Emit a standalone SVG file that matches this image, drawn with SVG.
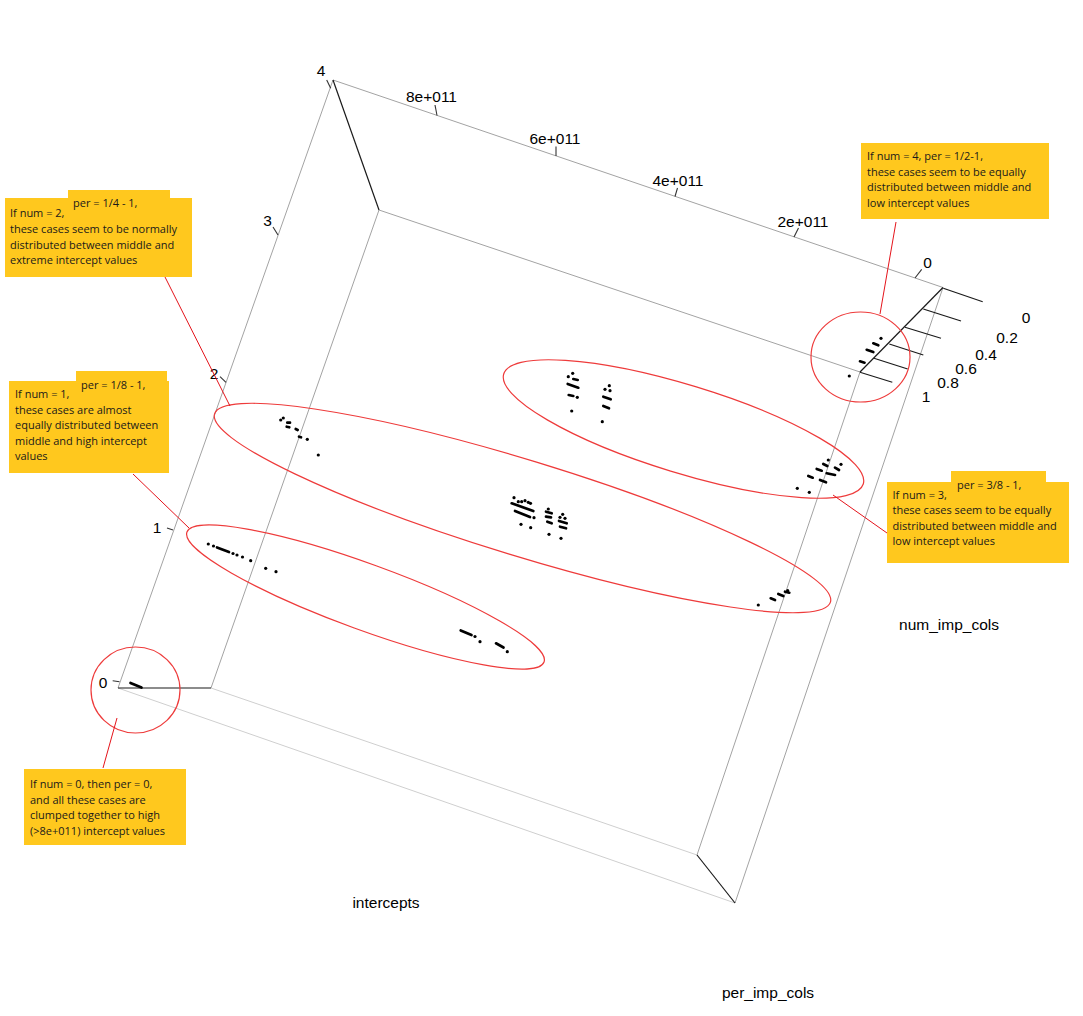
<svg xmlns="http://www.w3.org/2000/svg" width="1083" height="1016" viewBox="0 0 1083 1016">
<style>
.ax{stroke:#a3a3a3;stroke-width:1;fill:none}
.axl{stroke:#cfcfcf;stroke-width:1;fill:none}
.axk{stroke:#1a1a1a;stroke-width:1.2;fill:none}
.tk{stroke:#333;stroke-width:1.1}
.lbl{font-family:"Liberation Sans",Arial,sans-serif;font-size:15.5px;fill:#000;text-anchor:middle}
.ell{fill:none;stroke:#ee3b3b;stroke-width:1.2}
.lead{stroke:#e4141b;stroke-width:1;fill:none}
.box{fill:#FFC81E}
.ct{font-family:"Open Sans","Noto Sans","Liberation Sans",sans-serif;font-size:11px;fill:#1a1a1a}
.d{fill:#000}
.ds{stroke:#000;stroke-width:2.7;stroke-linecap:round}
</style>
<rect x="0" y="0" width="1083" height="1016" fill="#fff"/>
<g id="box-axes">
<line class="axl" x1="211" y1="688" x2="697" y2="855"/>
<line class="axl" x1="118" y1="688" x2="735" y2="903"/>
<line class="ax" x1="333" y1="80" x2="943" y2="287.5"/>
<line class="ax" x1="333" y1="80" x2="118" y2="688"/>
<line class="ax" x1="379" y1="210" x2="860" y2="372"/>
<line class="ax" x1="379" y1="210" x2="211" y2="688"/>
<line class="ax" x1="860" y1="372" x2="697" y2="855"/>
<line class="ax" x1="943" y1="287.5" x2="735" y2="903"/>
<line class="axk" x1="333" y1="80" x2="379" y2="210"/>
<line class="axk" x1="943" y1="287.5" x2="860" y2="372"/>
<line class="axk" x1="118" y1="688" x2="211" y2="688"/>
<line class="axk" x1="697" y1="855" x2="735" y2="903"/>
</g>
<g id="ticks">
<line class="tk" x1="437" y1="115.5" x2="435" y2="105"/>
<line class="tk" x1="556" y1="156" x2="556" y2="146.5"/>
<line class="tk" x1="675" y1="196.5" x2="677.5" y2="188"/>
<line class="tk" x1="794" y1="237" x2="798.5" y2="228"/>
<line class="tk" x1="915" y1="278" x2="921.7" y2="269.3"/>
<line class="tk" x1="330.7" y1="88.3" x2="326.7" y2="80"/>
<line class="tk" x1="278" y1="235" x2="273" y2="227"/>
<line class="tk" x1="226" y1="382.3" x2="220" y2="376.7"/>
<line class="tk" x1="173" y1="530" x2="167" y2="528"/>
<line class="tk" x1="119.5" y1="681.7" x2="112.7" y2="680.7"/>
<line class="axk" x1="943.3" y1="288.3" x2="982.7" y2="301.7"/>
<line class="axk" x1="923.3" y1="309" x2="961" y2="321"/>
<line class="axk" x1="905" y1="327.3" x2="941" y2="338.3"/>
<line class="axk" x1="889.3" y1="344" x2="923.3" y2="355"/>
<line class="axk" x1="874" y1="358.3" x2="907.7" y2="369"/>
<line class="axk" x1="860" y1="372.3" x2="892.3" y2="382.3"/>
</g>
<g id="axis-labels">
<text class="lbl" x="431.5" y="102">8e+011</text>
<text class="lbl" x="555" y="144">6e+011</text>
<text class="lbl" x="678" y="186">4e+011</text>
<text class="lbl" x="803" y="227">2e+011</text>
<text class="lbl" x="927.5" y="268">0</text>
<text class="lbl" x="321" y="76">4</text>
<text class="lbl" x="267.5" y="226">3</text>
<text class="lbl" x="214" y="379">2</text>
<text class="lbl" x="157" y="533">1</text>
<text class="lbl" x="103" y="688">0</text>
<text class="lbl" x="1026" y="323">0</text>
<text class="lbl" x="1007" y="343">0.2</text>
<text class="lbl" x="986" y="360">0.4</text>
<text class="lbl" x="966" y="374">0.6</text>
<text class="lbl" x="948" y="388">0.8</text>
<text class="lbl" x="926" y="402">1</text>
<text class="lbl" x="386" y="908">intercepts</text>
<text class="lbl" x="949" y="630">num_imp_cols</text>
<text class="lbl" x="768" y="998">per_imp_cols</text>
</g>
<g id="points">
<circle class="d" cx="849.3" cy="376" r="1.6"/>
<line class="ds" x1="860" y1="361.3" x2="864.5" y2="362.7"/>
<line class="ds" x1="866.7" y1="349.8" x2="873.3" y2="352"/>
<line class="ds" x1="873.3" y1="343.3" x2="878.3" y2="345.3"/>
<circle class="d" cx="881" cy="338.3" r="1.6"/>
<line class="ds" x1="130.5" y1="683" x2="141.5" y2="687.5"/>
<circle class="d" cx="208.3" cy="544" r="1.6"/>
<circle class="d" cx="213.5" cy="546" r="1.6"/>
<line class="ds" x1="217" y1="547.5" x2="229" y2="552"/>
<circle class="d" cx="233" cy="553.5" r="1.6"/>
<circle class="d" cx="237" cy="555" r="1.6"/>
<circle class="d" cx="242.5" cy="557" r="1.6"/>
<circle class="d" cx="250.7" cy="560.7" r="1.6"/>
<circle class="d" cx="265.7" cy="568.3" r="1.6"/>
<circle class="d" cx="276" cy="571.7" r="1.6"/>
<line class="ds" x1="460.7" y1="630.5" x2="471.5" y2="635"/>
<circle class="d" cx="475" cy="636.5" r="1.6"/>
<circle class="d" cx="480" cy="641.7" r="1.6"/>
<line class="ds" x1="496" y1="643.3" x2="503.5" y2="647.5"/>
<circle class="d" cx="507.3" cy="651.7" r="1.6"/>
<circle class="d" cx="572.7" cy="373.3" r="1.6"/>
<circle class="d" cx="568.3" cy="376.7" r="1.6"/>
<line class="ds" x1="573.3" y1="379" x2="577.7" y2="380"/>
<line class="ds" x1="567.7" y1="384" x2="578.3" y2="387.7"/>
<line class="ds" x1="568.7" y1="395" x2="573.3" y2="396"/>
<circle class="d" cx="577.3" cy="397.3" r="1.6"/>
<circle class="d" cx="571.7" cy="411" r="1.6"/>
<circle class="d" cx="609.3" cy="385.7" r="1.6"/>
<circle class="d" cx="605" cy="389.3" r="1.6"/>
<circle class="d" cx="610" cy="390.7" r="1.6"/>
<line class="ds" x1="603.3" y1="396.7" x2="610.7" y2="399.3"/>
<line class="ds" x1="603.3" y1="406" x2="609" y2="408.3"/>
<circle class="d" cx="602.3" cy="421.7" r="1.6"/>
<circle class="d" cx="514" cy="497.7" r="1.6"/>
<circle class="d" cx="518.3" cy="501.7" r="1.6"/>
<circle class="d" cx="521.7" cy="501.7" r="1.6"/>
<circle class="d" cx="525" cy="500.7" r="1.6"/>
<circle class="d" cx="528.3" cy="502.3" r="1.6"/>
<circle class="d" cx="530.5" cy="503.3" r="1.6"/>
<line class="ds" x1="511.7" y1="503.3" x2="533.3" y2="511"/>
<line class="ds" x1="515" y1="511" x2="530" y2="517"/>
<circle class="d" cx="534" cy="517.7" r="1.6"/>
<circle class="d" cx="521" cy="524.3" r="1.6"/>
<circle class="d" cx="530.7" cy="527.7" r="1.6"/>
<circle class="d" cx="548.3" cy="509" r="1.6"/>
<line class="ds" x1="546" y1="511.7" x2="551.7" y2="513.3"/>
<line class="ds" x1="546" y1="516.7" x2="551" y2="517.3"/>
<line class="ds" x1="547.3" y1="521.7" x2="551.7" y2="523.3"/>
<circle class="d" cx="549" cy="534.3" r="1.6"/>
<circle class="d" cx="562.7" cy="514.3" r="1.6"/>
<circle class="d" cx="560" cy="517.3" r="1.6"/>
<circle class="d" cx="565" cy="518.3" r="1.6"/>
<line class="ds" x1="559" y1="521" x2="566.7" y2="523.3"/>
<line class="ds" x1="560" y1="526.7" x2="566" y2="528.3"/>
<circle class="d" cx="561" cy="538.3" r="1.6"/>
<circle class="d" cx="280.7" cy="420" r="1.6"/>
<circle class="d" cx="283.3" cy="418" r="1.6"/>
<line class="ds" x1="287.3" y1="422.7" x2="290" y2="422.7"/>
<line class="ds" x1="286.7" y1="426.7" x2="289.3" y2="427.3"/>
<line class="ds" x1="295.7" y1="429" x2="297.7" y2="430"/>
<line class="ds" x1="299" y1="436.7" x2="301" y2="437.3"/>
<circle class="d" cx="307.3" cy="439.3" r="1.6"/>
<circle class="d" cx="318.3" cy="455" r="1.6"/>
<circle class="d" cx="758.3" cy="605" r="1.6"/>
<line class="ds" x1="770.7" y1="598.3" x2="775" y2="600"/>
<line class="ds" x1="778.3" y1="594" x2="783.3" y2="596"/>
<line class="ds" x1="785" y1="591.7" x2="789.3" y2="592.7"/>
<circle class="d" cx="787.7" cy="590.7" r="1.6"/>
<circle class="d" cx="797.3" cy="488.3" r="1.6"/>
<circle class="d" cx="809.3" cy="492.3" r="1.6"/>
<line class="ds" x1="808.3" y1="476" x2="812.7" y2="477.7"/>
<line class="ds" x1="816.7" y1="469" x2="821.7" y2="470.7"/>
<line class="ds" x1="823.3" y1="464" x2="827.3" y2="466"/>
<circle class="d" cx="828.3" cy="460" r="1.6"/>
<line class="ds" x1="826.7" y1="473.3" x2="835" y2="475"/>
<line class="ds" x1="835" y1="467.7" x2="839" y2="470"/>
<circle class="d" cx="841" cy="464.3" r="1.6"/>
<line class="ds" x1="820" y1="480" x2="826" y2="482.3"/>
</g>
<g id="ellipses">
<ellipse class="ell" cx="683.5" cy="429" rx="188" ry="44" transform="rotate(17 683.5 429)"/>
<ellipse class="ell" cx="522.5" cy="508" rx="322" ry="48" transform="rotate(17 522.5 508)"/>
<ellipse class="ell" cx="365.5" cy="597" rx="190" ry="33" transform="rotate(20 365.5 597)"/>
<ellipse class="ell" cx="860.5" cy="357" rx="49.5" ry="45"/>
<ellipse class="ell" cx="135.5" cy="690" rx="44.5" ry="43"/>
</g>
<g id="connectors">
<line class="lead" x1="896" y1="222" x2="880" y2="314"/>
<line class="lead" x1="165" y1="277" x2="230" y2="406"/>
<line class="lead" x1="133" y1="474" x2="189" y2="528"/>
<line class="lead" x1="833" y1="495" x2="887" y2="533"/>
<line class="lead" x1="117" y1="718" x2="103" y2="768"/>
</g>
<g id="note-num2">
<rect class="box" x="68" y="190" width="102" height="12"/>
<rect class="box" x="5" y="198" width="187" height="79"/>
<text class="ct" x="73" y="207">per = 1/4 - 1,</text>
<text class="ct" x="10" y="217">If num = 2,</text>
<text class="ct" x="10" y="233">these cases seem to be normally</text>
<text class="ct" x="10" y="248.5">distributed between middle and</text>
<text class="ct" x="10" y="264">extreme intercept values</text>
</g>
<g id="note-num1">
<rect class="box" x="76" y="371" width="91" height="12"/>
<rect class="box" x="9" y="381" width="160" height="92"/>
<text class="ct" x="81" y="389">per = 1/8 - 1,</text>
<text class="ct" x="15" y="398">If num = 1,</text>
<text class="ct" x="15" y="413.5">these cases are almost</text>
<text class="ct" x="15" y="429">equally distributed between</text>
<text class="ct" x="15" y="444.5">middle and high intercept</text>
<text class="ct" x="15" y="460">values</text>
</g>
<g id="note-num4">
<rect class="box" x="861" y="143" width="188" height="76"/>
<text class="ct" x="867" y="160">If num = 4, per = 1/2-1,</text>
<text class="ct" x="867" y="175.5">these cases seem to be equally</text>
<text class="ct" x="867" y="191">distributed between middle and</text>
<text class="ct" x="867" y="206.5">low intercept values</text>
</g>
<g id="note-num3">
<rect class="box" x="951" y="471" width="95" height="12"/>
<rect class="box" x="887" y="482" width="182" height="81"/>
<text class="ct" x="957" y="489">per = 3/8 - 1,</text>
<text class="ct" x="892.5" y="498.5">If num = 3,</text>
<text class="ct" x="892.5" y="514">these cases seem to be equally</text>
<text class="ct" x="892.5" y="529.5">distributed between middle and</text>
<text class="ct" x="892.5" y="545">low intercept values</text>
</g>
<g id="note-num0">
<rect class="box" x="24" y="769" width="162" height="76"/>
<text class="ct" x="30" y="788">If num = 0, then per = 0,</text>
<text class="ct" x="30" y="803.5">and all these cases are</text>
<text class="ct" x="30" y="819">clumped together to high</text>
<text class="ct" x="30" y="834.5">(&gt;8e+011) intercept values</text>
</g>
</svg>
